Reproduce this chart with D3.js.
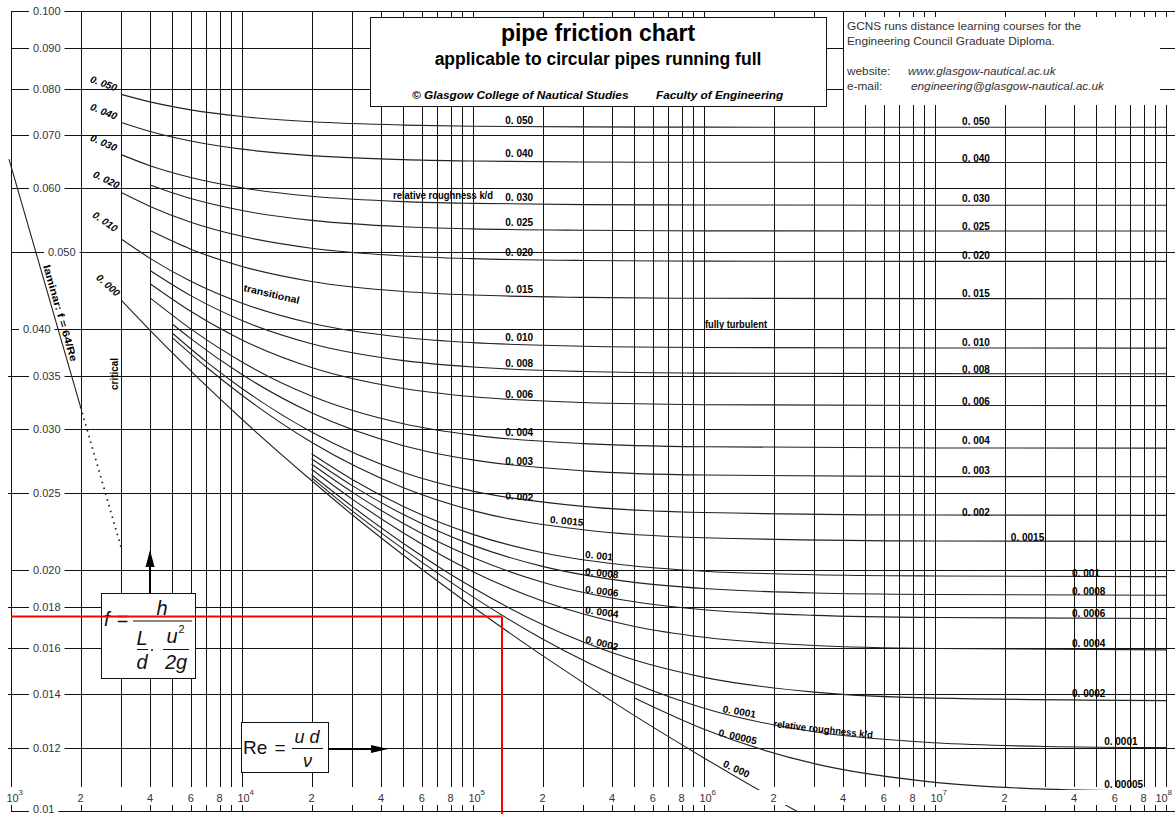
<!DOCTYPE html>
<html>
<head>
<meta charset="utf-8">
<script src="https://cdn.jsdelivr.net/npm/d3@7"></script>
<style>
  html, body { margin: 0; padding: 0; background: #fff; }
  svg { display: block; }
</style>
</head>
<body>
<svg id="chart" width="1175" height="814"></svg>
<script>
// ---- axis values -------------------------------------------------------
const reDecades = [1e3, 1e4, 1e5, 1e6, 1e7];
const reTickDigits = [2, 4, 6, 8];
const frictionTicks = [0.100, 0.090, 0.080, 0.070, 0.060, 0.050, 0.040, 0.035, 0.030,
                       0.025, 0.020, 0.018, 0.016, 0.014, 0.012, 0.010];
const frictionTickLabels = ["0.100", "0.090", "0.080", "0.070", "0.060", "0.050", "0.040", "0.035",
                            "0.030", "0.025", "0.020", "0.018", "0.016", "0.014", "0.012", "0.01"];

// ---- friction factor f against Reynolds number, one list per k/d ---------
const kd050 = [[3e3,.07867],[4e3,.07698],[6e3,.07524],[1e4,.07380],[2e4,.07269],[5e4,.07201],[1e5,.07178],[3e5,.07163],[1e6,.07158],[1e7,.07156],[1e8,.07155]];
const kd040 = [[3e3,.07255],[4e3,.07070],[6e3,.06879],[1e4,.06719],[2e4,.06595],[5e4,.06519],[1e5,.06493],[3e5,.06476],[1e6,.06470],[1e7,.06467],[1e8,.06467]];
const kd030 = [[3e3,.06614],[4e3,.06406],[6e3,.06192],[1e4,.06011],[2e4,.05867],[5e4,.05778],[1e5,.05748],[3e5,.05728],[1e6,.05722],[1e7,.05718],[1e8,.05717]];
const kd025 = [[4e3,.06059],[6e3,.05828],[1e4,.05631],[2e4,.05474],[5e4,.05375],[1e5,.05342],[3e5,.05320],[1e6,.05311],[1e7,.05308],[1e8,.05308]];
const kd020 = [[3e3,.05929],[4e3,.05698],[6e3,.05445],[1e4,.05228],[2e4,.05052],[5e4,.04941],[1e5,.04903],[3e5,.04877],[1e6,.04868],[1e7,.04864],[1e8,.04864]];
const kd015 = [[4e3,.05315],[6e3,.05038],[1e4,.04794],[2e4,.04591],[5e4,.04461],[1e5,.04415],[3e5,.04385],[1e6,.04374],[1e7,.04370],[1e8,.04369]];
const kd010 = [[3e3,.05187],[4e3,.04907],[6e3,.04594],[1e4,.04313],[2e4,.04070],[5e4,.03908],[1e5,.03850],[3e5,.03810],[1e6,.03797],[1e7,.03791],[1e8,.03790]];
const kd008 = [[4e3,.04739],[6e3,.04408],[1e4,.04103],[2e4,.03838],[5e4,.03656],[1e5,.03589],[3e5,.03543],[1e6,.03527],[1e7,.03521],[1e8,.03520]];
const kd006 = [[4e3,.04561],[6e3,.04213],[1e4,.03880],[2e4,.03584],[5e4,.03374],[1e5,.03295],[3e5,.03240],[1e6,.03220],[1e7,.03213],[1e8,.03212]];
const kd004 = [[4e3,.04379],[6e3,.04005],[1e4,.03641],[2e4,.03302],[5e4,.03049],[1e5,.02950],[3e5,.02879],[1e6,.02853],[1e7,.02843],[1e8,.02842]];
const kd003 = [[5e3,.04060],[6e3,.03895],[1e4,.03512],[2e4,.03146],[5e4,.02862],[1e5,.02747],[3e5,.02662],[1e6,.02630],[1e7,.02618],[1e8,.02617]];
const kd002 = [[5e3,.03955],[7e3,.03645],[1e4,.03374],[2e4,.02977],[5e4,.02650],[1e5,.02511],[3e5,.02403],[1e6,.02361],[1e7,.02344],[1e8,.02342]];
const kd0015 = [[5e3,.03903],[7e3,.03589],[1e4,.03309],[2e4,.02890],[5e4,.02535],[1e5,.02374],[3e5,.02247],[1e6,.02196],[1e7,.02175],[1e8,.02173]];
const kd001 = [[2e4,.02796],[3e4,.02597],[5e4,.02402],[1e5,.02217],[2e5,.02103],[5e5,.02024],[1e6,.01994],[3e6,.01974],[1e7,.01967],[1e8,.01963]];
const kd0008 = [[2e4,.02756],[3e4,.02551],[5e4,.02347],[1e5,.02148],[2e5,.02022],[5e5,.01931],[1e6,.01897],[3e6,.01873],[1e7,.01865],[1e8,.01861]];
const kd0006 = [[2e4,.02715],[3e4,.02504],[5e4,.02288],[1e5,.02074],[2e5,.01932],[5e5,.01826],[1e6,.01785],[3e6,.01756],[1e7,.01745],[1e8,.01740]];
const kd0004 = [[2e4,.02674],[3e4,.02454],[5e4,.02226],[1e5,.01991],[2e5,.01830],[5e5,.01701],[1e6,.01649],[3e6,.01610],[1e7,.01596],[1e8,.01590]];
const kd0002 = [[2e4,.02632],[3e4,.02403],[5e4,.02160],[1e5,.01901],[2e5,.01710],[5e5,.01544],[1e6,.01469],[3e6,.01408],[1e7,.01384],[1e8,.01374]];
const kd0001 = [[2e4,.02611],[3e4,.02372],[5e4,.02125],[1e5,.01852],[2e5,.01641],[5e5,.01443],[1e6,.01344],[3e6,.01256],[1e7,.01217],[3e7,.01204],[1e8,.01200]];
const kd00005 = [[5e5,.01384],[1e6,.01265],[3e6,.01146],[1e7,.01086],[3e7,.01065],[1e8,.01058]];
const smoothPipe = [[3e3,.04351],[4e3,.03989],[6e3,.03549],[1e4,.03088],[2e4,.02589],[3e4,.02346],[5e4,.02088],[1e5,.01799],[2e5,.01564],[5e5,.01316],[1e6,.01165],[2e6,.01037],[3e6,.00972]];

// laminar flow, f = 64/Re, and its dotted extension through the critical zone
const laminarSolid = [[980, 0.0653], [2000, 0.0320]];
const laminarDotted = [[2000, 0.0320], [3000, 0.02133]];

// worked reading shown in red
const exampleRe = 1.335e5;
const exampleF = 0.0175;

// ---- set-up --------------------------------------------------------------
const W = 1175, H = 814;
const svg = d3.select("#chart");
const x = d3.scaleLog().domain([1e3, 1e8]).range([11, 1166]);
const y = d3.scaleLog().domain([0.01, 0.1]).range([811, 11]);
const crisp = v => Math.round(v) + 0.5;

const fontSans = "'Liberation Sans', Arial, Helvetica, sans-serif";
const ink = "#111";
const bandTop = 787, bandBottom = 805;

const curves = [
  { kd: "0.050", pts: kd050 }, { kd: "0.040", pts: kd040 }, { kd: "0.030", pts: kd030 },
  { kd: "0.025", pts: kd025 }, { kd: "0.020", pts: kd020 }, { kd: "0.015", pts: kd015 },
  { kd: "0.010", pts: kd010 }, { kd: "0.008", pts: kd008 }, { kd: "0.006", pts: kd006 },
  { kd: "0.004", pts: kd004 }, { kd: "0.003", pts: kd003 }, { kd: "0.002", pts: kd002 },
  { kd: "0.0015", pts: kd0015 }, { kd: "0.001", pts: kd001 }, { kd: "0.0008", pts: kd0008 },
  { kd: "0.0006", pts: kd0006 }, { kd: "0.0004", pts: kd0004 }, { kd: "0.0002", pts: kd0002 },
  { kd: "0.0001", pts: kd0001 }, { kd: "0.00005", pts: kd00005 }, { kd: "0.000", pts: smoothPipe }
];
const byKd = Object.fromEntries(curves.map(c => [c.kd, c]));

// log-log lookup along a curve, used to seat the labels on their lines
function fAt(pts, re) {
  const lr = Math.log10(re);
  for (let i = 0; i < pts.length - 1; i++) {
    const a = pts[i], b = pts[i + 1];
    if (re >= a[0] && re <= b[0]) {
      const t = (lr - Math.log10(a[0])) / (Math.log10(b[0]) - Math.log10(a[0]));
      return Math.pow(10, Math.log10(a[1]) + t * (Math.log10(b[1]) - Math.log10(a[1])));
    }
  }
  return re < pts[0][0] ? pts[0][1] : pts[pts.length - 1][1];
}

// ---- grid ------------------------------------------------------------------
const grid = svg.append("g").attr("stroke", ink).attr("stroke-width", 1).attr("fill", "none");
const reLines = [];
reDecades.forEach(d => { for (let k = 1; k <= 9; k++) reLines.push(k * d); });
reLines.push(1e8);
reLines.forEach(r => {
  const xx = crisp(x(r));
  grid.append("line").attr("x1", xx).attr("x2", xx).attr("y1", 11).attr("y2", bandTop);
  grid.append("line").attr("x1", xx).attr("x2", xx).attr("y1", bandBottom).attr("y2", 811);
});
const minorF = [0.035, 0.025, 0.018, 0.016, 0.014, 0.012];
frictionTicks.forEach(f => {
  const yy = crisp(y(f));
  grid.append("line").attr("x1", minorF.includes(f) ? 8 : 11).attr("x2", W).attr("y1", yy).attr("y2", yy);
});

// ---- curves ----------------------------------------------------------------
svg.append("clipPath").attr("id", "plotArea")
  .append("rect").attr("x", 11).attr("y", 11).attr("width", 1155).attr("height", 800);
const lineGen = d3.line().x(d => x(d[0])).y(d => y(d[1])).curve(d3.curveMonotoneX);
svg.append("g").attr("clip-path", "url(#plotArea)")
  .selectAll("path").data(curves).join("path")
  .attr("d", d => lineGen(d.pts))
  .attr("fill", "none").attr("stroke", "#222").attr("stroke-width", 1.1);

const straight = d3.line().x(d => x(d[0])).y(d => y(d[1]));
svg.append("path").attr("d", straight(laminarSolid))
  .attr("fill", "none").attr("stroke", "#222").attr("stroke-width", 1.1);
svg.append("path").attr("d", straight(laminarDotted))
  .attr("fill", "none").attr("stroke", "#222").attr("stroke-width", 1.7)
  .attr("stroke-dasharray", "1.6,4.4");

// white strip that carries the Reynolds-number labels
svg.append("rect").attr("x", 0).attr("y", 790).attr("width", W).attr("height", bandBottom - 790).attr("fill", "#fff");

// ---- information panel (top right) -----------------------------------------
svg.append("rect").attr("x", 844).attr("y", 17).attr("width", W - 844).attr("height", 88).attr("fill", "#fff");
[0.090, 0.080].forEach(f => {
  svg.append("line").attr("x1", 1160).attr("x2", W).attr("y1", crisp(y(f))).attr("y2", crisp(y(f)))
    .attr("stroke", ink);
});
const info = svg.append("g").attr("font-family", fontSans).attr("font-size", 11.8).attr("fill", "#333");
info.append("text").attr("x", 847).attr("y", 30).text("GCNS runs distance learning courses for the");
info.append("text").attr("x", 847).attr("y", 45).text("Engineering Council Graduate Diploma.");
info.append("text").attr("x", 847).attr("y", 75).text("website:");
info.append("text").attr("x", 908).attr("y", 75).attr("font-style", "italic").text("www.glasgow-nautical.ac.uk");
info.append("text").attr("x", 847).attr("y", 90).text("e-mail:");
info.append("text").attr("x", 911).attr("y", 90).attr("font-style", "italic").text("engineering@glasgow-nautical.ac.uk");

// ---- title box -------------------------------------------------------------
svg.append("rect").attr("x", 370.5).attr("y", 17.5).attr("width", 456).attr("height", 89)
  .attr("fill", "#fff").attr("stroke", ink).attr("stroke-width", 1);
const title = svg.append("g").attr("font-family", fontSans).attr("fill", "#000");
title.append("text").attr("x", 598).attr("y", 41).attr("text-anchor", "middle")
  .attr("font-size", 23).attr("font-weight", "bold").text("pipe friction chart");
title.append("text").attr("x", 598).attr("y", 65).attr("text-anchor", "middle")
  .attr("font-size", 17.5).attr("font-weight", "bold").text("applicable to circular pipes running full");
title.append("text").attr("x", 412).attr("y", 99).attr("font-size", 11.8).attr("font-weight", "bold")
  .attr("font-style", "italic").text("\u00A9 Glasgow College of Nautical Studies");
title.append("text").attr("x", 656).attr("y", 99).attr("font-size", 11.8).attr("font-weight", "bold")
  .attr("font-style", "italic").text("Faculty of Engineering");

// ---- friction-factor labels ------------------------------------------------
const yLab = svg.append("g").attr("font-family", fontSans).attr("font-size", 11).attr("fill", "#333");
frictionTicks.forEach((f, i) => {
  const lx = f === 0.050 ? 48 : (f === 0.040 ? 23 : 33);
  const yy = y(f);
  const g = yLab.append("g");
  const base = f === 0.010 ? yy + 2 : yy + 4;
  const t = g.append("text").attr("x", lx).attr("y", base).text(frictionTickLabels[i]);
  const bb = t.node().getBBox();
  g.insert("rect", "text").attr("x", bb.x - 4).attr("y", yy - 9)
    .attr("width", bb.width + 8).attr("height", 18).attr("fill", "#fff");
});

// ---- Reynolds-number labels ------------------------------------------------
const xLab = svg.append("g").attr("font-family", fontSans).attr("fill", "#333");
reDecades.concat([1e8]).forEach(d => {
  const xx = d === 1e8 ? x(d) - 4.5 : x(d) + 1.5;
  xLab.append("text").attr("x", xx).attr("y", 802).attr("text-anchor", "middle")
    .attr("font-size", 11).text("10");
  xLab.append("text").attr("x", xx + 6).attr("y", 795).attr("font-size", 8)
    .text(String(Math.round(Math.log10(d))));
});
reDecades.forEach(d => reTickDigits.forEach(k => {
  xLab.append("text").attr("x", x(k * d)).attr("y", 802).attr("text-anchor", "middle")
    .attr("font-size", 11).text(String(k));
}));

// ---- roughness labels ------------------------------------------------------
const lab = svg.append("g").attr("font-family", fontSans).attr("font-size", 10)
  .attr("font-weight", "bold").attr("fill", "#000");
const show = kd => kd.replace(".", ". ");

// at the start of the steep curves
[["0.050", -17.5, -11, 20], ["0.040", -17.5, -11, 22], ["0.030", -17.5, -12, 24],
 ["0.020", -15, -13, 26], ["0.010", -16, -17.5, 35], ["0.000", -13, -15, 42]].forEach(([kd, dx, dy, rot]) => {
  const p = byKd[kd].pts[0];
  lab.append("text")
    .attr("transform", `translate(${x(p[0]) + dx},${y(p[1]) + dy}) rotate(${rot})`)
    .attr("text-anchor", "middle").attr("dy", "0.35em").attr("font-style", "italic")
    .text(show(kd));
});

// middle column
[["0.050",1.38e5,-2.4,0],["0.040",1.38e5,-4.1,0],["0.030",1.38e5,-2.3,0],["0.025",1.38e5,-3.2,0],
 ["0.020",1.38e5,-3,0],["0.015",1.38e5,-2.3,0],["0.010",1.38e5,-2.7,0],["0.008",1.38e5,-1.4,0],
 ["0.006",1.38e5,-0.5,0],["0.004",1.38e5,-1.7,0],["0.003",1.38e5,1.4,0],["0.002",1.38e5,3.7,3],
 ["0.0015",2.15e5,-0.9,5],["0.001",3.05e5,-1.1,6],["0.0008",3.05e5,1.2,6],["0.0006",3.05e5,1.3,7],
 ["0.0004",3.05e5,0.5,8],["0.0002",3.05e5,1.6,14],["0.0001",1.2e6,0,10],["0.00005",1.15e6,2,13],
 ["0.000",1.2e6,-2.3,25]].forEach(([kd, re, dy, rot]) => {
  const yy = y(fAt(byKd[kd].pts, re)) + dy;
  lab.append("text").attr("transform", `translate(${x(re)},${yy}) rotate(${rot})`).text(show(kd));
});

// right-hand column
[["0.050",1.31e7,-2],["0.040",1.31e7,-0.6],["0.030",1.31e7,-2.9],["0.025",1.31e7,-1.3],
 ["0.020",1.31e7,-2.9],["0.015",1.31e7,-2.1],["0.010",1.31e7,-2.3],["0.008",1.31e7,-0.2],
 ["0.006",1.31e7,-0.8],["0.004",1.31e7,-3.7],["0.003",1.31e7,-2.6],["0.002",1.31e7,0.6],
 ["0.0015",2.13e7,0.3],["0.001",3.92e7,0.3],["0.0008",3.92e7,-0.2],["0.0006",3.92e7,-1.6],
 ["0.0004",3.92e7,-2.2],["0.0002",3.92e7,-2.4],["0.0001",5.4e7,-2.3],["0.00005",5.4e7,-1.9]].forEach(([kd, re, dy]) => {
  const yy = y(fAt(byKd[kd].pts, re)) + dy;
  lab.append("text").attr("x", x(re)).attr("y", yy).text(show(kd));
});

// region notes
const note = svg.append("g").attr("font-family", fontSans).attr("font-size", 10)
  .attr("font-weight", "bold").attr("fill", "#000");
const fit = (sel, len) => sel.attr("textLength", len).attr("lengthAdjust", "spacingAndGlyphs");
fit(note.append("text").attr("x", 393).attr("y", 199).text("relative roughness k/d"), 100);
fit(note.append("text").attr("transform", "translate(773,727) rotate(6.5)").text("relative roughness k/d"), 100);
fit(note.append("text").attr("transform", "translate(243,291) rotate(13)").text("transitional"), 57);
fit(note.append("text").attr("x", 705).attr("y", 328).text("fully turbulent"), 62);
fit(note.append("text").attr("transform", "translate(118,358) rotate(-90)").attr("text-anchor", "end").text("critical"), 32);
{
  const a = laminarSolid[0], b = laminarSolid[1];
  const ang = Math.atan2(y(b[1]) - y(a[1]), x(b[0]) - x(a[0])) * 180 / Math.PI;
  const reMid = 1535;
  const fMid = fAt(laminarSolid, reMid);
  fit(note.append("text").attr("transform", `translate(${x(reMid)},${y(fMid)}) rotate(${ang})`)
    .attr("text-anchor", "middle").attr("y", -3).text("laminar: f = 64/Re"), 100);
}

// ---- definition boxes ------------------------------------------------------
const fb = svg.append("g").attr("font-family", fontSans).attr("fill", "#111");
fb.append("rect").attr("x", 101.5).attr("y", 593.5).attr("width", 94).attr("height", 85)
  .attr("fill", "#fff").attr("stroke", ink);
fb.append("text").attr("x", 104).attr("y", 626).attr("font-size", 20).attr("font-style", "italic").text("f");
fb.append("text").attr("x", 122.5).attr("y", 626).attr("font-size", 20).attr("text-anchor", "middle").text("=");
fb.append("line").attr("x1", 133).attr("x2", 192).attr("y1", 621).attr("y2", 621).attr("stroke", "#111");
fb.append("text").attr("x", 162).attr("y", 615).attr("font-size", 20).attr("font-style", "italic").attr("text-anchor", "middle").text("h");
fb.append("text").attr("x", 142).attr("y", 645).attr("font-size", 20).attr("font-style", "italic").attr("text-anchor", "middle").text("L");
fb.append("line").attr("x1", 137).attr("x2", 148).attr("y1", 649.5).attr("y2", 649.5).attr("stroke", "#111");
fb.append("text").attr("x", 142).attr("y", 669).attr("font-size", 20).attr("font-style", "italic").attr("text-anchor", "middle").text("d");
fb.append("circle").attr("cx", 152).attr("cy", 650).attr("r", 1);
fb.append("text").attr("x", 172).attr("y", 643).attr("font-size", 20).attr("font-style", "italic").attr("text-anchor", "middle").text("u");
fb.append("text").attr("x", 178.5).attr("y", 633).attr("font-size", 11).text("2");
fb.append("line").attr("x1", 163).attr("x2", 189).attr("y1", 649.5).attr("y2", 649.5).attr("stroke", "#111");
fb.append("text").attr("x", 176).attr("y", 669).attr("font-size", 20).attr("font-style", "italic").attr("text-anchor", "middle").text("2g");

const rb = svg.append("g").attr("font-family", fontSans).attr("fill", "#111");
rb.append("rect").attr("x", 241.5).attr("y", 722.5).attr("width", 87).attr("height", 50)
  .attr("fill", "#fff").attr("stroke", ink);
rb.append("text").attr("x", 243).attr("y", 754).attr("font-size", 19).text("Re");
rb.append("text").attr("x", 280).attr("y", 754).attr("font-size", 19).attr("text-anchor", "middle").text("=");
rb.append("line").attr("x1", 292).attr("x2", 323).attr("y1", 748.5).attr("y2", 748.5).attr("stroke", "#111");
rb.append("text").attr("x", 307).attr("y", 743).attr("font-size", 18).attr("font-style", "italic").attr("text-anchor", "middle").text("u d");
rb.append("text").attr("x", 307.5).attr("y", 767).attr("font-size", 18).attr("font-style", "italic").attr("text-anchor", "middle").text("\u03BD");

// arrows pointing to the axes they define
const arrows = svg.append("g").attr("stroke", "#000").attr("fill", "#000");
arrows.append("line").attr("x1", 150).attr("x2", 150).attr("y1", 593).attr("y2", 564).attr("stroke-width", 2);
arrows.append("path").attr("d", "M150,550 L145.5,567 L154.5,567 Z").attr("stroke", "none");
arrows.append("line").attr("x1", 329).attr("x2", 374).attr("y1", 749).attr("y2", 749).attr("stroke-width", 2);
arrows.append("path").attr("d", "M388,749 L371,745 L371,753 Z").attr("stroke", "none");

// ---- worked reading ----------------------------------------------------------
const red = svg.append("g").attr("stroke", "#f00").attr("stroke-width", 2).attr("fill", "none");
red.append("line").attr("x1", x(1e3)).attr("x2", x(exampleRe)).attr("y1", y(exampleF)).attr("y2", y(exampleF));
red.append("line").attr("x1", x(exampleRe)).attr("x2", x(exampleRe)).attr("y1", y(exampleF)).attr("y2", H);
</script>
</body>
</html>
